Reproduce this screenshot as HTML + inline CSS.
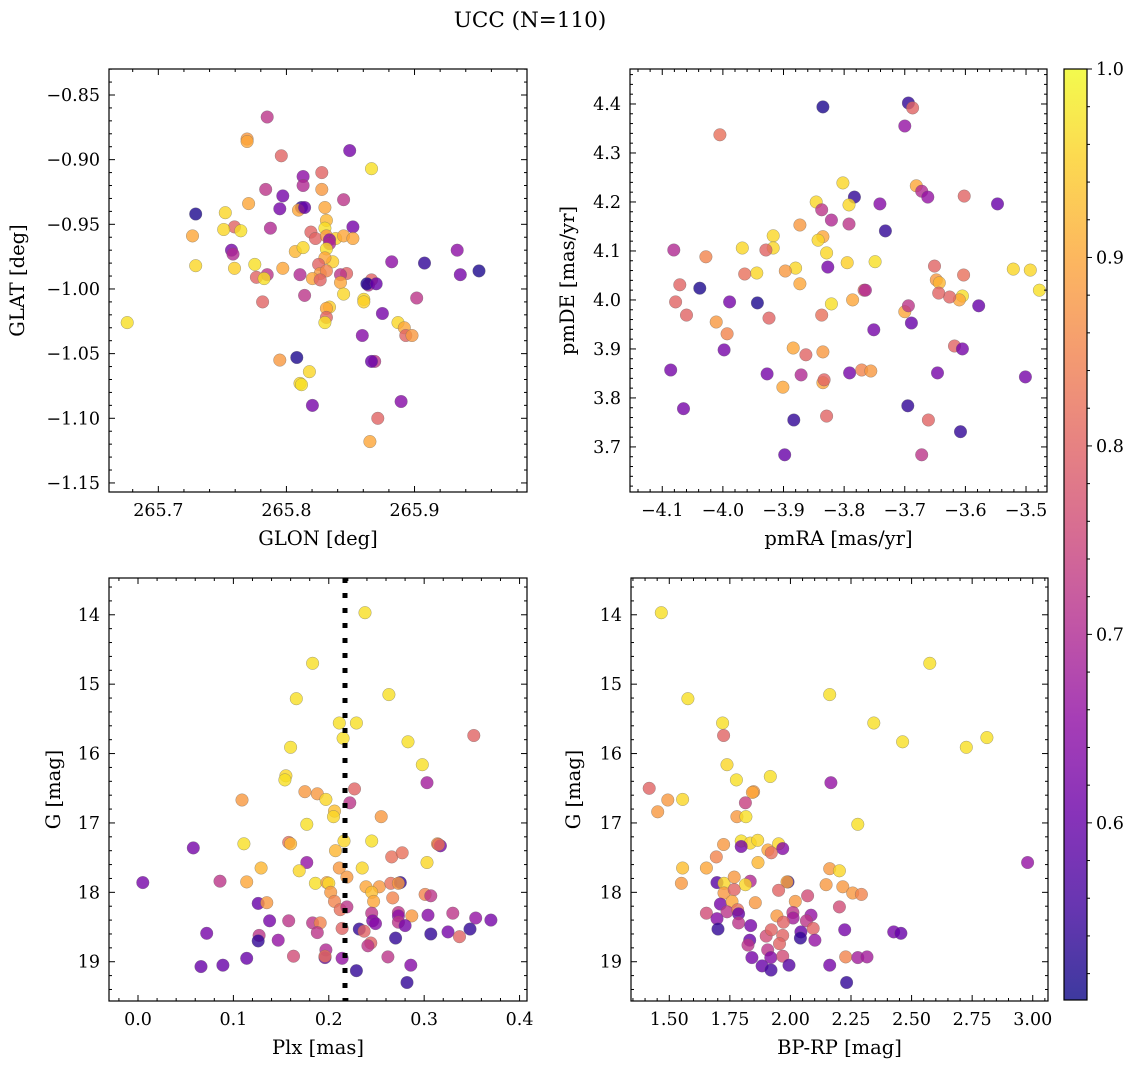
<!DOCTYPE html>
<html><head><meta charset="utf-8"><style>
body{margin:0;background:#fff}
svg{display:block}
text{font-family:"DejaVu Serif","Liberation Serif",serif;fill:#000}
</style></head><body>
<svg id="fig" width="1136" height="1068" viewBox="0 0 1136 1068" xmlns="http://www.w3.org/2000/svg">
<text x="530" y="27" font-size="21.5" text-anchor="middle">UCC (N=110)</text>
</svg>
<script>
// ---- Panel 1: GLON / GLAT ----
const glonA=[265.7850,265.7693,265.7693,265.7960,265.8494,265.8664,265.8130,265.8130,265.7838,265.8276,265.7972,265.8118,265.8276,265.8446,265.7705,265.7948,265.8094,265.8300,265.8142,265.8312,265.7292,265.7523,265.7595,265.7644,265.7510,265.7267,265.7875,265.8191,265.8300,265.8519,265.8227,265.8312,265.8385,265.8446,265.8519,265.8336,265.8336,265.8312,265.8069,265.8130,265.7571,265.7583,265.9333,265.9078,265.9357,265.9503,265.8822,265.7292,265.7595,265.7753,265.7972,265.7850,265.7766,265.7826,265.8361,265.8300,265.8251,265.8264,265.8312,265.8470,265.8106,265.8203,265.8264,265.8422,265.8422,265.8664,265.8640,265.8628,265.8701,265.8142,265.7814,265.8446,265.8604,265.8604,265.8749,265.9017,265.8336,265.8312,265.8312,265.8300,265.8871,265.8920,265.8932,265.8980,265.8592,265.6757,265.8689,265.8664,265.7948,265.8081,265.8106,265.8118,265.8179,265.8713,265.8895,265.8652,265.8203];
const glatA=[-0.867,-0.884,-0.886,-0.897,-0.893,-0.907,-0.913,-0.920,-0.923,-0.910,-0.928,-0.937,-0.923,-0.931,-0.934,-0.938,-0.939,-0.937,-0.937,-0.947,-0.942,-0.941,-0.952,-0.955,-0.954,-0.959,-0.953,-0.956,-0.953,-0.952,-0.961,-0.959,-0.961,-0.959,-0.961,-0.962,-0.965,-0.969,-0.971,-0.968,-0.970,-0.973,-0.970,-0.980,-0.989,-0.986,-0.979,-0.982,-0.984,-0.981,-0.984,-0.989,-0.991,-0.992,-0.979,-0.976,-0.981,-0.988,-0.986,-0.988,-0.989,-0.992,-0.993,-0.989,-0.995,-0.993,-0.997,-0.996,-0.996,-1.005,-1.010,-1.004,-1.008,-1.010,-1.019,-1.007,-1.014,-1.015,-1.022,-1.026,-1.026,-1.030,-1.036,-1.036,-1.036,-1.026,-1.056,-1.056,-1.055,-1.053,-1.073,-1.074,-1.064,-1.100,-1.087,-1.118,-1.090];
const probA=[.72,.88,.9,.8,.62,.97,.65,.70,.72,.80,.62,.54,.88,.72,.9,.62,.9,.9,.6,.92,.52,.96,.8,.97,.96,.9,.7,.8,.97,.62,.8,.88,.95,.9,.9,.65,.7,.97,.92,.96,.62,.7,.65,.54,.62,.52,.65,.96,.95,.97,.9,.72,.8,.97,.95,.9,.8,.88,.85,.8,.7,.9,.8,.72,.9,.8,.7,.52,.6,.72,.8,.96,.96,.95,.62,.72,.95,.9,.8,.97,.96,.9,.8,.88,.64,.97,.72,.6,.88,.52,.96,.97,.96,.8,.64,.9,.62];
// ---- Panel 2: pmRA / pmDE ----
const pmraB=[-3.835,-3.694,-3.687,-3.700,-4.005,-3.783,-3.802,-3.846,-3.837,-3.821,-3.681,-3.672,-3.662,-3.602,-3.547,-3.792,-3.741,-3.732,-3.792,-3.835,-3.843,-3.873,-3.917,-3.917,-3.929,-3.968,-4.081,-4.028,-3.829,-3.795,-3.827,-3.880,-3.897,-3.873,-3.944,-4.071,-4.078,-4.038,-3.964,-3.749,-3.651,-3.648,-3.643,-3.603,-3.605,-3.610,-3.626,-3.521,-3.493,-3.478,-3.578,-3.767,-3.765,-3.786,-3.821,-3.700,-3.694,-3.689,-3.644,-3.989,-3.943,-4.011,-3.993,-3.998,-4.060,-3.924,-3.837,-3.751,-3.618,-3.605,-3.884,-3.863,-3.835,-4.086,-3.927,-3.871,-3.835,-3.833,-3.901,-3.791,-3.771,-3.756,-3.646,-3.501,-4.065,-3.695,-3.829,-3.883,-3.661,-3.608,-3.672,-3.898];
const pmdeB=[4.394,4.402,4.392,4.355,4.337,4.210,4.239,4.200,4.184,4.163,4.233,4.222,4.210,4.212,4.196,4.194,4.196,4.141,4.155,4.129,4.122,4.153,4.131,4.106,4.102,4.106,4.102,4.088,4.096,4.076,4.067,4.065,4.059,4.033,4.055,4.031,3.996,4.024,4.053,4.078,4.069,4.041,4.035,4.051,4.008,4.000,4.006,4.063,4.061,4.020,3.988,4.020,4.020,4.000,3.992,3.976,3.988,3.953,4.014,3.996,3.994,3.955,3.931,3.898,3.969,3.963,3.969,3.939,3.906,3.900,3.902,3.888,3.894,3.857,3.849,3.847,3.831,3.837,3.822,3.851,3.857,3.855,3.851,3.843,3.778,3.784,3.763,3.755,3.755,3.731,3.684,3.684];
const probB=[.52,.54,.8,.66,.82,.54,.96,.96,.72,.7,.9,.7,.66,.8,.6,.96,.64,.54,.72,.9,.96,.88,.96,.96,.8,.96,.7,.85,.96,.95,.62,.96,.88,.9,.96,.8,.8,.52,.82,.97,.8,.88,.92,.82,.97,.9,.8,.96,.96,.97,.6,.8,.7,.9,.97,.9,.72,.6,.8,.62,.52,.88,.85,.62,.8,.8,.82,.62,.8,.62,.9,.8,.88,.62,.62,.7,.9,.8,.9,.62,.85,.88,.62,.62,.62,.54,.8,.54,.8,.54,.72,.6];
// ---- Panel 3: Plx / G ----
const plxC=[0.238,0.183,0.166,0.263,0.211,0.229,0.215,0.352,0.283,0.160,0.298,0.155,0.154,0.303,0.109,0.175,0.188,0.197,0.227,0.222,0.206,0.205,0.255,0.177,0.058,0.111,0.158,0.160,0.216,0.245,0.314,0.317,0.315,0.207,0.266,0.277,0.177,0.169,0.129,0.211,0.219,0.235,0.303,0.005,0.086,0.114,0.186,0.198,0.200,0.202,0.239,0.253,0.245,0.247,0.265,0.267,0.275,0.273,0.301,0.307,0.126,0.135,0.206,0.212,0.219,0.245,0.273,0.273,0.287,0.304,0.330,0.354,0.370,0.138,0.158,0.183,0.191,0.246,0.249,0.273,0.280,0.072,0.127,0.126,0.147,0.188,0.214,0.232,0.237,0.244,0.241,0.270,0.307,0.325,0.337,0.348,0.197,0.196,0.196,0.163,0.114,0.214,0.262,0.066,0.089,0.229,0.286,0.282];
const gC=[13.97,14.70,15.21,15.15,15.56,15.56,15.78,15.74,15.83,15.91,16.16,16.32,16.38,16.42,16.67,16.55,16.58,16.66,16.51,16.71,16.83,16.91,16.91,17.02,17.36,17.30,17.28,17.30,17.26,17.26,17.30,17.33,17.31,17.40,17.49,17.43,17.57,17.69,17.65,17.65,17.78,17.65,17.57,17.86,17.84,17.85,17.87,17.86,17.87,18.00,17.92,17.92,18.00,18.13,17.87,18.08,17.86,17.87,18.03,18.05,18.16,18.15,18.13,18.25,18.21,18.30,18.29,18.34,18.34,18.33,18.30,18.37,18.40,18.41,18.41,18.44,18.44,18.41,18.45,18.43,18.48,18.59,18.62,18.70,18.69,18.58,18.52,18.53,18.56,18.73,18.77,18.66,18.60,18.57,18.64,18.53,18.83,18.94,18.92,18.92,18.95,18.95,18.93,19.07,19.05,19.13,19.05,19.30];
const probC=[.97,.97,.97,.97,.97,.97,.97,.8,.97,.97,.97,.96,.97,.68,.88,.88,.88,.96,.8,.72,.93,.96,.88,.97,.62,.97,.82,.92,.96,.97,.88,.62,.82,.92,.82,.82,.66,.96,.92,.88,.88,.96,.96,.62,.72,.9,.97,.9,.96,.88,.9,.88,.93,.9,.82,.85,.54,.88,.85,.72,.6,.88,.85,.82,.72,.72,.72,.65,.88,.64,.72,.66,.62,.62,.72,.72,.85,.64,.64,.72,.62,.62,.72,.54,.66,.72,.8,.54,.8,.8,.72,.54,.54,.62,.8,.54,.7,.6,.82,.76,.6,.66,.72,.6,.6,.54,.64,.54];
const plxLine=[0.217];
// ---- Panel 4: BP-RP / G ----
const bprpD=[1.467,2.575,1.577,2.162,1.720,2.344,1.724,2.463,2.811,2.726,1.738,1.777,1.917,2.167,1.417,1.848,1.843,1.814,1.494,1.555,1.452,1.779,1.816,2.278,1.797,1.834,1.865,1.724,1.797,1.951,1.968,1.907,1.921,1.694,1.866,2.979,1.555,1.653,2.162,2.202,1.550,1.697,1.726,1.768,1.834,1.814,1.990,1.986,2.147,2.216,2.257,2.293,1.951,2.071,1.726,1.768,1.711,1.759,1.855,2.020,2.202,1.653,1.738,1.782,1.786,1.944,2.010,2.011,1.971,2.085,2.066,2.094,1.697,1.786,1.701,1.836,2.043,2.041,2.101,2.224,2.426,2.456,1.900,1.921,1.968,1.832,1.825,1.955,1.906,1.841,1.919,1.968,1.883,1.920,1.994,2.162,2.228,2.278,2.316,2.232];
const gD=[13.97,14.70,15.21,15.15,15.56,15.56,15.74,15.83,15.77,15.91,16.16,16.38,16.33,16.42,16.50,16.55,16.56,16.71,16.67,16.66,16.84,16.91,16.91,17.02,17.26,17.29,17.25,17.31,17.34,17.30,17.37,17.39,17.43,17.49,17.57,17.57,17.65,17.65,17.66,17.69,17.87,17.86,17.87,17.78,17.84,17.89,17.85,17.85,17.89,17.92,18.01,18.03,17.97,18.05,18.01,17.96,18.17,18.13,18.15,18.13,18.21,18.30,18.28,18.25,18.31,18.34,18.29,18.37,18.43,18.33,18.41,18.52,18.38,18.44,18.53,18.48,18.57,18.66,18.69,18.54,18.57,18.59,18.63,18.54,18.62,18.69,18.76,18.74,18.83,18.94,18.94,18.92,19.06,19.12,19.05,19.05,18.93,18.94,18.93,19.30];
const probD=[.97,.97,.97,.97,.97,.97,.8,.97,.97,.97,.96,.97,.97,.66,.8,.88,.9,.74,.88,.96,.88,.88,.97,.97,.97,.96,.96,.88,.62,.96,.64,.9,.82,.85,.92,.66,.93,.9,.88,.96,.88,.58,.96,.88,.7,.96,.54,.9,.88,.88,.88,.85,.8,.76,.88,.8,.62,.9,.88,.88,.76,.76,.72,.82,.6,.88,.72,.68,.8,.66,.72,.8,.64,.72,.54,.62,.6,.54,.66,.62,.62,.6,.76,.8,.8,.6,.72,.8,.72,.62,.64,.76,.6,.56,.58,.62,.85,.68,.68,.54];
// ---- colorbar ticks ----
const cbTicks=[0.6,0.7,0.8,0.9,1.0];

const svg=document.getElementById('fig');
const NS='http://www.w3.org/2000/svg';
const TICK_FS=17.5, LAB_FS=19.5;
function mk(tag,attrs,parent){const e=document.createElementNS(NS,tag);for(const k in attrs)e.setAttribute(k,attrs[k]);(parent||svg).appendChild(e);return e;}
const stops=['#0d0887','#41049d','#6a00a8','#8f0da4','#b12a90','#cc4778','#e16462','#f2844b','#fca636','#fcce25','#f0f921'];
function hex(h){return [1,3,5].map(i=>parseInt(h.substr(i,2),16));}
function plasma(t){t=Math.max(0,Math.min(1,t));const f=t*10,i=Math.min(9,Math.floor(f)),u=f-i;const a=hex(stops[i]),b=hex(stops[i+1]);return 'rgb('+a.map((v,k)=>Math.round(v+(b[k]-v)*u)).join(',')+')';}
const VMIN=0.506,VMAX=1.0;
function cnorm(v){return (v-VMIN)/(VMAX-VMIN);}
function fmt(v,d){let s=v.toFixed(d);return s.replace('-','\u2212');}

function panel(name,box,xd,yd,xMaj,xMin,yMaj,yMin,xdec,ydec,xlabel,ylabel,ylabX,xs,ys,cs,extra){
  const [L,T,R,B]=box;
  const sx=v=>L+(v-xd[0])/(xd[1]-xd[0])*(R-L);
  const sy=v=>T+(v-yd[0])/(yd[1]-yd[0])*(B-T);
  const g=mk('g',{});
  
  
  const clipId=name+'-clip';
  const cp=mk('clipPath',{id:clipId},g);mk('rect',{x:L,y:T,width:R-L,height:B-T},cp);
  const pts=mk('g',{'clip-path':'url(#'+clipId+')'},g);
  for(let i=0;i<xs.length;i++){
    const c=mk('circle',{cx:sx(xs[i]).toFixed(1),cy:sy(ys[i]).toFixed(1),r:6.3,fill:plasma(cnorm(cs[i])),'fill-opacity':0.8,stroke:'#666','stroke-width':0.5,'stroke-opacity':0.6},pts);
    
    
  }
  if(extra){extra(pts,sx,sy);}
  const ax=mk('g',{stroke:'#000','stroke-width':1},g);
  const lo=Math.min(xd[0],xd[1]),hi=Math.max(xd[0],xd[1]);
  for(let v=Math.ceil(lo/xMin-1e-6)*xMin;v<=hi+1e-9;v+=xMin){
    const isMaj=Math.abs(v/xMaj-Math.round(v/xMaj))<1e-4;const len=isMaj?6:3;const x=sx(v);
    mk('line',{x1:x,x2:x,y1:B,y2:B-len},ax);mk('line',{x1:x,x2:x,y1:T,y2:T+len},ax);
    if(isMaj){const t=mk('text',{x:x,y:B+24,'font-size':TICK_FS,'text-anchor':'middle',stroke:'none'},g);t.textContent=fmt(v,xdec);
      }
  }
  const ylo=Math.min(yd[0],yd[1]),yhi=Math.max(yd[0],yd[1]);
  for(let v=Math.ceil(ylo/yMin-1e-6)*yMin;v<=yhi+1e-9;v+=yMin){
    const isMaj=Math.abs(v/yMaj-Math.round(v/yMaj))<1e-4;const len=isMaj?6:3;const y=sy(v);
    mk('line',{x1:L,x2:L+len,y1:y,y2:y},ax);mk('line',{x1:R,x2:R-len,y1:y,y2:y},ax);
    if(isMaj){const t=mk('text',{x:L-9,y:y+6,'font-size':TICK_FS,'text-anchor':'end',stroke:'none'},g);t.textContent=fmt(v,ydec);
      }
  }
  const fr=mk('rect',{x:L,y:T,width:R-L,height:B-T,fill:'none',stroke:'#000','stroke-width':1.2},g);
  
  const xl=mk('text',{x:(L+R)/2,y:B+53,'font-size':LAB_FS,'text-anchor':'middle'},g);xl.textContent=xlabel;
  
  const yl=mk('text',{x:ylabX,y:(T+B)/2,'font-size':LAB_FS,'text-anchor':'middle',transform:'rotate(-90 '+ylabX+' '+((T+B)/2)+')'},g);yl.textContent=ylabel;
  
}

panel('glon-glat-panel',[109,69,527,492],[265.6615,265.9878],[-0.8299,-1.157],0.1,0.02,0.05,0.01,1,2,'GLON [deg]','GLAT [deg]',24,glonA,glatA,probA);
panel('pm-panel',[630,69,1047,492],[-4.1532,-3.4654],[4.4714,3.608],0.1,0.02,0.1,0.02,1,1,'pmRA [mas/yr]','pmDE [mas/yr]',574,pmraB,pmdeB,probB);
panel('plx-g-panel',[109,578,527,1001],[-0.0304,0.4078],[13.47,19.566],0.1,0.02,1,0.2,1,0,'Plx [mas]','G [mag]',60,plxC,gC,probC,(g,sx,sy)=>{
  const x=sx(plxLine[0]);
  const l=mk('line',{x1:x,x2:x,y1:578,y2:1001,stroke:'#000','stroke-width':5,'stroke-dasharray':'5 10'},g);
  
});
panel('cmd-panel',[631,578,1048,1001],[1.342,3.063],[13.47,19.566],0.25,0.05,1,0.2,2,0,'BP-RP [mag]','G [mag]',580,bprpD,gD,probD);

// colorbar
(function(){
  const L=1064,R=1087,T=69,B=1000;
  const defs=mk('defs',{});const lg=mk('linearGradient',{id:'cbg',x1:0,y1:1,x2:0,y2:0},defs);
  for(let i=0;i<=20;i++){mk('stop',{offset:i/20,'stop-color':plasma(i/20),'stop-opacity':0.8},lg);}
  const r=mk('rect',{x:L,y:T,width:R-L,height:B-T,fill:'url(#cbg)',stroke:'#000','stroke-width':1.2});
  
  const sy=v=>B-(v-VMIN)/(VMAX-VMIN)*(B-T);
  for(let v=0.52;v<=1.0001;v+=0.02){const y=sy(v);const maj=Math.abs(v*10-Math.round(v*10))<1e-3;
    mk('line',{x1:R,x2:R+(maj?5:3),y1:y,y2:y,stroke:'#000','stroke-width':1});}
  cbTicks.forEach(v=>{const t=mk('text',{x:R+9,y:sy(v)+6,'font-size':TICK_FS});t.textContent=v.toFixed(1);
    });
})();
</script>
</body></html>
